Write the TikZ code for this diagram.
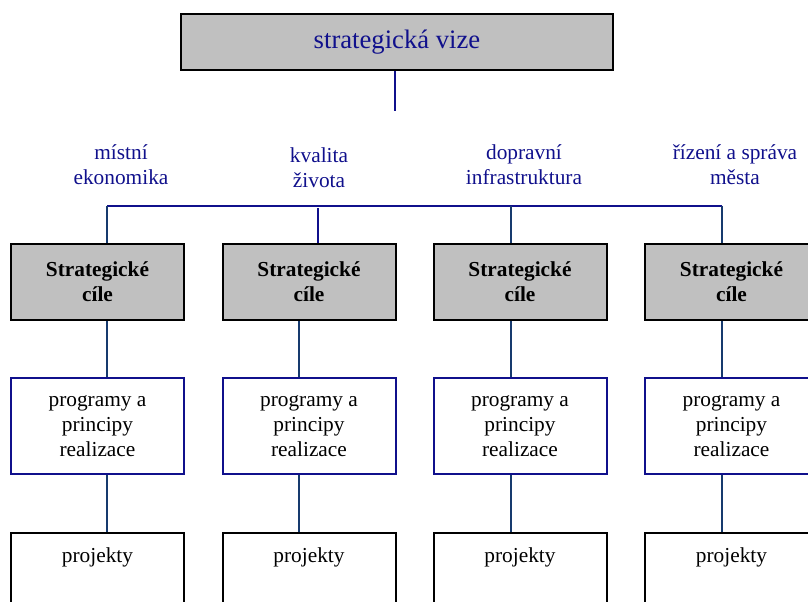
\documentclass[tikz,border=0pt]{standalone}
\usepackage{fontspec}
\setmainfont{Liberation Serif}
\definecolor{vizeblue}{RGB}{16,16,140}
\definecolor{linkblue}{RGB}{23,58,110}
\definecolor{boxgray}{RGB}{192,192,192}
\tikzset{every picture/.style={line width=1.5pt},
  visionbox/.style={draw=black, fill=boxgray, minimum width=324pt, minimum height=42pt, text=vizeblue, font=\fontsize{20}{24}\selectfont},
  goalbox/.style={draw=black, fill=boxgray, minimum width=129.75pt, minimum height=57pt, align=center, font=\fontsize{16}{18.9}\selectfont\bfseries},
  progbox/.style={draw=vizeblue, minimum width=129.75pt, minimum height=72pt, align=center, font=\fontsize{16}{18.9}\selectfont},
  projbox/.style={draw=black, anchor=north, minimum width=129.75pt, inner ysep=11pt, text depth=60pt, font=\fontsize{16}{18.9}\selectfont},
  arealabel/.style={align=center, text=vizeblue, font=\fontsize{16}{18.9}\selectfont},
}
\begin{document}
\begin{tikzpicture}[x=0.75pt,y=0.75pt,yscale=-1,xscale=1]
\useasboundingbox (0,0) rectangle (808,601);
\clip (0,0) rectangle (808,601);

% top box
\node[visionbox] (vize) at (397,42) {strategická vize};

% area labels
\node[arealabel] (a1) at (121,165) {místní\\ekonomika};
\node[arealabel] (a2) at (319,168) {kvalita\\života};
\node[arealabel] (a3) at (524,165) {dopravní\\infrastruktura};
\node[arealabel] (a4) at (735,165) {řízení a správa\\města};

% line positions
\coordinate (t1) at (107,205.5);
\coordinate (t2) at (318,208);
\coordinate (t3) at (511,205.5);
\coordinate (t4) at (722,205.5);
\coordinate (d1) at (107,0);
\coordinate (d2) at (299,0);
\coordinate (d3) at (511,0);
\coordinate (d4) at (722,0);

% goals
\node[goalbox] (g1) at (97.5,282) {Strategické\\cíle};
\node[goalbox] (g2) at (309,282) {Strategické\\cíle};
\node[goalbox] (g3) at (520,282) {Strategické\\cíle};
\node[goalbox] (g4) at (731.5,282) {Strategické\\cíle};

% programs
\node[progbox] (p1) at (97.5,426) {programy a\\principy\\realizace};
\node[progbox] (p2) at (309,426) {programy a\\principy\\realizace};
\node[progbox] (p3) at (520,426) {programy a\\principy\\realizace};
\node[progbox] (p4) at (731.5,426) {programy a\\principy\\realizace};

% projects
\node[projbox] (j1) at (97.5,532) {projekty};
\node[projbox] (j2) at (309,532) {projekty};
\node[projbox] (j3) at (520,532) {projekty};
\node[projbox] (j4) at (731.5,532) {projekty};

% connectors
\draw[vizeblue] (vize.south -| 395,0) -- ++(0,40);
\draw[vizeblue] (t1) -- (t4);
\draw[linkblue] (t1) -- (t1 |- g1.north);
\draw[vizeblue] (t2) -- (t2 |- g2.north);
\draw[linkblue] (t3) -- (t3 |- g3.north);
\draw[linkblue] (t4) -- (t4 |- g4.north);
\draw[linkblue] (g1.south -| d1) -- (p1.north -| d1);
\draw[linkblue] (g2.south -| d2) -- (p2.north -| d2);
\draw[linkblue] (g3.south -| d3) -- (p3.north -| d3);
\draw[linkblue] (g4.south -| d4) -- (p4.north -| d4);
\draw[linkblue] (p1.south -| d1) -- (j1.north -| d1);
\draw[linkblue] (p2.south -| d2) -- (j2.north -| d2);
\draw[linkblue] (p3.south -| d3) -- (j3.north -| d3);
\draw[linkblue] (p4.south -| d4) -- (j4.north -| d4);

\end{tikzpicture}
\end{document}
